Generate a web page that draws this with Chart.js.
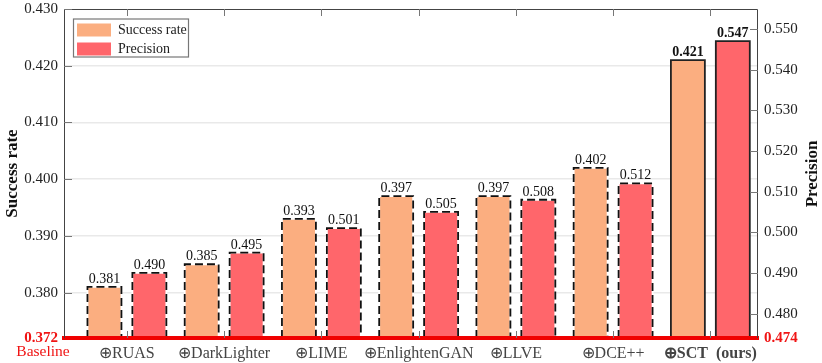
<!DOCTYPE html>
<html><head><meta charset="utf-8">
<style>html,body{margin:0;padding:0;background:#fff}#w{width:822px;height:363px}</style>
<script src="https://cdn.jsdelivr.net/npm/chart.js@4"></script>
</head><body><div id="w"><canvas id="c" width="822" height="363"></canvas></div>
<script>
const categories = ['⊕RUAS','⊕DarkLighter','⊕LIME','⊕EnlightenGAN','⊕LLVE','⊕DCE++','⊕SCT  (ours)'];
const successRate = [0.381,0.385,0.393,0.397,0.397,0.402,0.421];
const precision = [0.490,0.495,0.501,0.505,0.508,0.512,0.547];
const leftTicks = [0.372,0.380,0.390,0.400,0.410,0.420,0.430];
const rightTicks = [0.474,0.480,0.490,0.500,0.510,0.520,0.530,0.540,0.550];
const baselineLabel = 'Baseline';
const rightTitle = 'Precision';
const SERIF = '"Liberation Serif","Times New Roman",serif';
const INK = '#222', AXIS = '#444';
const toBars = vals => vals.map((y,i)=>({x:i,y}));
const highlight = categories.length-1;

const marks = {
  id:'marks',
  afterDatasetsDraw(chart){
    const ctx = chart.ctx, a = chart.chartArea;
    ctx.save();
    chart.data.datasets.forEach((ds,di)=>{
      chart.getDatasetMeta(di).data.forEach((bar,i)=>{
        const l = bar.x-bar.width/2, r = bar.x+bar.width/2, b = Math.min(bar.base,a.bottom);
        const path = ()=>{ctx.beginPath(); ctx.moveTo(l,b); ctx.lineTo(l,bar.y); ctx.lineTo(r,bar.y); ctx.lineTo(r,b); ctx.stroke();};
        if(i===highlight){
          ctx.setLineDash([]); ctx.strokeStyle='#222'; ctx.lineWidth=1.8; path();
        } else {
          ctx.setLineDash([]); ctx.strokeStyle='#fff'; ctx.lineWidth=1.8; path();
          ctx.setLineDash([8,4]); ctx.strokeStyle='#111'; ctx.lineWidth=1.8; path();
        }
        ctx.setLineDash([]);
        ctx.fillStyle = '#111';
        ctx.font = (i===highlight?'bold ':'')+'14px '+SERIF;
        ctx.textAlign='center'; ctx.textBaseline='alphabetic';
        ctx.fillText(ds.data[i].y.toFixed(3),bar.x,bar.y-4);
      });
    });
    ctx.restore();
  },
  afterDraw(chart){
    const ctx = chart.ctx, a = chart.chartArea, s = chart.scales;
    ctx.save();
    ctx.strokeStyle = AXIS; ctx.lineWidth = 1;
    ctx.beginPath();
    ctx.moveTo(a.left+.5,a.bottom); ctx.lineTo(a.left+.5,a.top+.5); ctx.lineTo(a.right-.5,a.top+.5); ctx.lineTo(a.right-.5,a.bottom);
    ctx.stroke();
    ctx.strokeStyle = '#777';
    ctx.beginPath();
    s.x.ticks.forEach(t=>{
      const x = Math.round(s.x.getPixelForValue(t.value))+.5;
      ctx.moveTo(x,a.top); ctx.lineTo(x,a.top+7);
      ctx.moveTo(x,a.bottom); ctx.lineTo(x,a.bottom-7);
    });
    s.y.ticks.forEach(t=>{ if(t.value===leftTicks[0]) return;
      const y = Math.round(s.y.getPixelForValue(t.value))+.5;
      ctx.moveTo(a.left,y); ctx.lineTo(a.left+8,y);
    });
    s.y1.ticks.forEach(t=>{ if(t.value===rightTicks[0]) return;
      const y = Math.round(s.y1.getPixelForValue(t.value))+.5;
      ctx.moveTo(a.right,y); ctx.lineTo(a.right-8,y);
    });
    ctx.stroke();
    // legend frame
    ctx.strokeStyle = '#777'; ctx.lineWidth = 1.2;
    ctx.strokeRect(a.left+9.5,a.top+10,115,38);
    // baseline caption
    ctx.fillStyle = '#f01414'; ctx.font = '15.5px '+SERIF;
    ctx.textAlign='center'; ctx.textBaseline='middle';
    ctx.fillText(baselineLabel,43,352);
    // right axis title reads bottom-to-top
    ctx.translate(813,174); ctx.rotate(-Math.PI/2);
    ctx.fillStyle = '#111'; ctx.font = 'bold 17px '+SERIF;
    ctx.fillText(rightTitle,0,0);
    ctx.restore();
  },
  afterLayout(chart){
    const a = chart.chartArea, lg = chart.legend;
    if(lg){ lg.left = a.left+8; lg.top = a.top+9; lg.right = lg.left+lg.width; lg.bottom = lg.top+lg.height; }
  }
};

const fitY = sc => { sc.width = 64; sc.paddingTop = 0; sc.paddingBottom = 0; };
const fitX = sc => { sc.height = 25; sc.paddingLeft = 0; sc.paddingRight = 0; };

new Chart(document.getElementById('c'),{
  type:'bar',
  data:{datasets:[
    {label:'Success rate',data:toBars(successRate),yAxisID:'y',backgroundColor:'#FBAE80',borderWidth:0,categoryPercentage:.924,barPercentage:.756},
    {label:'Precision',data:toBars(precision),yAxisID:'y1',backgroundColor:'#FF666B',borderWidth:0,categoryPercentage:.924,barPercentage:.756}
  ]},
  options:{
    responsive:false,animation:false,
    layout:{autoPadding:false,padding:{top:9,left:0,right:0,bottom:0}},
    plugins:{
      tooltip:{enabled:false},
      legend:{
        position:'chartArea',align:'start',
        labels:{boxWidth:34,boxHeight:13,padding:5,color:INK,font:{family:SERIF,size:14},
          generateLabels:c=>c.data.datasets.map((d,i)=>({text:d.label,fillStyle:d.backgroundColor,strokeStyle:d.backgroundColor,lineWidth:0,datasetIndex:i,fontColor:INK}))}
      }
    },
    scales:{
      x:{type:'linear',position:'bottom',min:-0.647,max:6.49,offset:false,
        afterBuildTicks:sc=>{sc.ticks=categories.map((_,i)=>({value:i}));},
        afterFit:fitX,
        grid:{display:false,drawTicks:false},
        border:{display:true,color:'#f00000',width:4,z:1},
        ticks:{autoSkip:false,maxRotation:0,minRotation:0,padding:6,color:AXIS,
          callback:v=>categories[v],
          font:c=>({family:SERIF,size:16,weight:c.index===highlight?'bold':'normal'})}
      },
      y:{position:'left',min:leftTicks[0],max:leftTicks[leftTicks.length-1],
        afterBuildTicks:sc=>{sc.ticks=leftTicks.map(value=>({value}));},
        afterFit:fitY,
        grid:{color:c=>(c.index===0||c.index===leftTicks.length-1)?'transparent':'#e9e9e9',lineWidth:1.5,drawTicks:false},
        border:{display:false},
        title:{display:true,text:'Success rate',color:'#111',padding:{top:2,bottom:0},font:{family:SERIF,size:17,weight:'bold'}},
        ticks:{autoSkip:false,padding:6,callback:v=>v.toFixed(3),
          color:c=>c.index===0?'#f01414':INK,
          font:c=>({family:SERIF,size:15,weight:c.index===0?'bold':'normal'})}
      },
      y1:{position:'right',min:rightTicks[0],max:0.5549,
        afterBuildTicks:sc=>{sc.ticks=rightTicks.map(value=>({value}));},
        afterFit:fitY,
        grid:{display:false,drawTicks:false},
        border:{display:false},
        ticks:{autoSkip:false,padding:6,callback:v=>v.toFixed(3),
          color:c=>c.index===0?'#f01414':INK,
          font:c=>({family:SERIF,size:15,weight:c.index===0?'bold':'normal'})}
      }
    }
  },
  plugins:[marks]
});
</script></body></html>
